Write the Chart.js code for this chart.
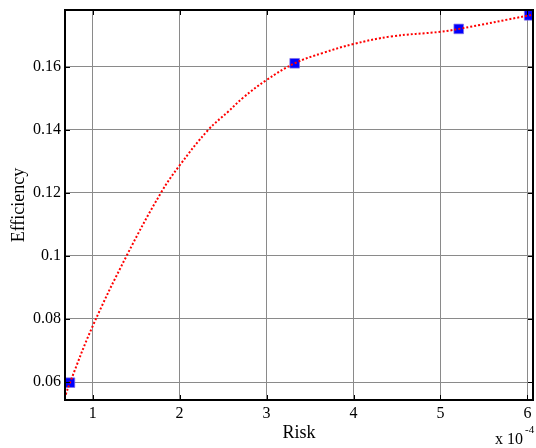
<!DOCTYPE html>
<html lang="en">
<head>
  <meta charset="UTF-8" />
  <title>Efficiency vs Risk</title>
  <script src="https://cdn.jsdelivr.net/npm/chart.js"></script>
  <style>
    body { margin: 0; background: #fff; }
    #wrap { width: 536px; height: 448px; }
  </style>
</head>
<body>
  <div id="wrap"><canvas id="chart" width="536" height="448"></canvas></div>

  <script>
    // curve (Risk in units of 1e-4)
    const curveX = [0.69, 0.739, 1.0, 1.39, 1.785, 2.0, 2.33, 2.56, 2.73, 3.0, 3.323, 3.65, 4.0, 4.43, 5.0, 5.21, 6.02, 6.064];
    const curveY = [0.0560, 0.0598, 0.0777, 0.100, 0.120, 0.1287, 0.140, 0.1458, 0.1502, 0.1558, 0.1611, 0.1644, 0.1672, 0.1696, 0.1711, 0.1720, 0.1763, 0.1766];

    // square markers
    const markerX = [0.739, 3.323, 5.21, 6.02];
    const markerY = [0.0598, 0.1611, 0.1720, 0.1763];

    const xTicks = [1, 2, 3, 4, 5, 6];
    const yTicks = [0.06, 0.08, 0.10, 0.12, 0.14, 0.16];
    const yTickLabels = ["0.06", "0.08", "0.1", "0.12", "0.14", "0.16"];

    const FONT = "'Liberation Serif', 'Times New Roman', serif";

    const boxPlugin = {
      id: "box",
      afterDraw(chart) {
        const { ctx, chartArea: a, scales } = chart;
        ctx.save();
        // inner tick marks on all four edges
        ctx.strokeStyle = "#000";
        ctx.lineWidth = 1;
        ctx.beginPath();
        xTicks.forEach(v => {
          const px = Math.round(scales.x.getPixelForValue(v)) + 0.5;
          ctx.moveTo(px, a.top); ctx.lineTo(px, a.top + 5);
          ctx.moveTo(px, a.bottom); ctx.lineTo(px, a.bottom - 5);
        });
        yTicks.forEach(v => {
          const py = Math.round(scales.y.getPixelForValue(v)) + 0.5;
          ctx.moveTo(a.right, py); ctx.lineTo(a.right - 5, py);
          ctx.moveTo(a.left, py); ctx.lineTo(a.left + 5, py);
        });
        ctx.stroke();
        // frame
        ctx.lineWidth = 2;
        ctx.strokeRect(a.left, a.top, a.right - a.left, a.bottom - a.top);

        // axis titles
        ctx.fillStyle = "#000";
        ctx.font = "18px " + FONT;
        ctx.textAlign = "center";
        ctx.textBaseline = "alphabetic";
        ctx.fillText("Risk", (a.left + a.right) / 2, 438);
        ctx.save();
        ctx.translate(24, (a.top + a.bottom) / 2);
        ctx.rotate(-Math.PI / 2);
        ctx.fillText("Efficiency", 0, 0);
        ctx.restore();

        // exponent label
        ctx.font = "16px " + FONT;
        ctx.textAlign = "left";
        ctx.fillText("x 10", 495, 444);
        ctx.font = "11px " + FONT;
        ctx.fillText("-4", 525, 433);
        ctx.restore();
      }
    };

    new Chart(document.getElementById("chart"), {
      type: "scatter",
      data: {
        datasets: [
          {
            label: "curve",
            data: curveX.map((x, i) => ({ x, y: curveY[i] })),
            showLine: true,
            borderColor: "#ff0000",
            borderWidth: 2,
            borderDash: [2, 2],
            tension: 0.4,
            pointRadius: 0
          },
          {
            label: "points",
            data: markerX.map((x, i) => ({ x, y: markerY[i] })),
            pointStyle: "rect",
            pointRadius: 6.8,
            backgroundColor: "#0000ff",
            borderColor: "rgba(130,110,230,0.7)",
            borderWidth: 1
          }
        ]
      },
      options: {
        responsive: false,
        animation: false,
        devicePixelRatio: 1,
        layout: { autoPadding: false, padding: { top: 10, right: 3, left: 0, bottom: 0 } },
        plugins: { legend: { display: false }, tooltip: { enabled: false } },
        scales: {
          x: {
            type: "linear",
            min: 0.682,
            max: 6.064,
            afterBuildTicks: s => { s.ticks = xTicks.map(v => ({ value: v })); },
            afterFit: s => { s.height = 48; s.paddingLeft = 0; s.paddingRight = 0; },
            grid: { color: "#8a8a8a", lineWidth: 1, drawTicks: false },
            border: { display: false },
            ticks: { color: "#000", font: { family: FONT, size: 16 }, padding: 4, maxRotation: 0 }
          },
          y: {
            type: "linear",
            min: 0.0543,
            max: 0.178,
            afterBuildTicks: s => { s.ticks = yTicks.map(v => ({ value: v })); },
            afterFit: s => { s.width = 65; s.paddingTop = 0; s.paddingBottom = 0; },
            grid: { color: "#8a8a8a", lineWidth: 1, drawTicks: false },
            border: { display: false },
            ticks: {
              color: "#000",
              font: { family: FONT, size: 16 },
              padding: 4,
              callback: (v, i) => yTickLabels[i]
            }
          }
        }
      },
      plugins: [boxPlugin]
    });
  </script>
</body>
</html>
